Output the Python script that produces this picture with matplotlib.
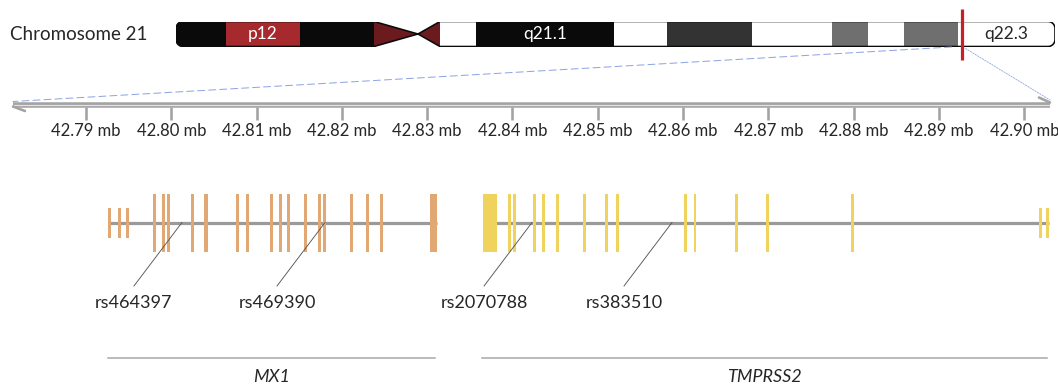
import numpy as np
import matplotlib
matplotlib.use("Agg")
import matplotlib.pyplot as plt
from matplotlib.path import Path
from matplotlib.patches import PathPatch, Rectangle, ConnectionPatch

plt.rcParams['font.family'] = ['Lato', 'DejaVu Sans']

# chromosome 21 ideogram, band edges in relative units (0-100)
band_start = [0.0, 5.69, 14.11, 22.53, 30.03, 34.13, 49.83, 55.86, 65.53, 74.63, 78.73, 82.82, 88.97]
band_end = [5.69, 14.11, 22.53, 30.03, 34.13, 49.83, 55.86, 65.53, 74.63, 78.73, 82.82, 88.97, 100.0]
band_stain = ['black', 'stalk', 'black', 'acen', 'white', 'black', 'white', 'dark', 'white',
              'grey', 'white', 'grey', 'white']
band_label = ['', 'p12', '', '', '', 'q21.1', '', '', '', '', '', '', 'q22.3']
centromere_mid = 27.53
region_marker = 89.42

# zoomed region (mb)
view_start = 42.78144
view_end = 42.90301
ticks_mb = [42.79, 42.80, 42.81, 42.82, 42.83, 42.84, 42.85, 42.86, 42.87, 42.88, 42.89, 42.90]

# genes
mx1_span = (42.7926, 42.8309)
mx1_exon_start = [42.79255, 42.79372, 42.79466, 42.79791, 42.79896, 42.79955, 42.80236,
                  42.80384, 42.80764, 42.80881, 42.81163, 42.81268, 42.81362, 42.81561,
                  42.81725, 42.81784, 42.82100, 42.82288, 42.82452, 42.83033]
mx1_exon_end = [42.79290, 42.79407, 42.79501, 42.79826, 42.79931, 42.79990, 42.80271,
                42.80430, 42.80799, 42.80916, 42.81198, 42.81303, 42.81397, 42.81596,
                42.81760, 42.81819, 42.82135, 42.82323, 42.82487, 42.83115]
mx1_exon_kind = ['utr', 'utr', 'utr'] + ['cds'] * 17

tmprss2_span = (42.8364, 42.9027)
tmprss2_exon_start = [42.83654, 42.83953, 42.84011, 42.84246, 42.84351, 42.84515, 42.84832,
                      42.85090, 42.85219, 42.86016, 42.86122, 42.86614, 42.86977, 42.87974,
                      42.90178, 42.90260]
tmprss2_exon_end = [42.83818, 42.83988, 42.84046, 42.84281, 42.84386, 42.84550, 42.84867,
                    42.85125, 42.85254, 42.86051, 42.86157, 42.86649, 42.87012, 42.88009,
                    42.90213, 42.90295]
tmprss2_exon_kind = ['cds'] * 14 + ['utr', 'utr']

snp_names = ['rs464397', 'rs469390', 'rs2070788', 'rs383510']
snp_pos = [42.80125, 42.81802, 42.84229, 42.85870]

W, H = 1058, 387
fig = plt.figure(figsize=(W / 100, H / 100), dpi=100)
px = 0.72  # points per pixel

stain_color = {'black': '#0a0a0a', 'stalk': '#a5292d', 'acen': '#6b1b1e',
               'white': '#ffffff', 'dark': '#333333', 'grey': '#6f6f6f'}
text_color = '#262626'

# ---- main track axes: x in mb, y in pixels from top
x0, x1 = 42.77992, 42.90395
ax = fig.add_axes([0, 0, 1, 1])
ax.set_xlim(x0, x1)
ax.set_ylim(H, 0)
ax.axis('off')
mbpx = (x1 - x0) / W

ax.text(x0 + 10 * mbpx, 35, 'Chromosome 21', fontsize=13.5, color=text_color,
        ha='left', va='center')

# ---- ideogram
axc = fig.add_axes([176 / W, (H - 46.5) / H, 879 / W, 25 / H])
axc.set_xlim(0, 100)
axc.set_ylim(0, 1)
axc.axis('off')

rx, ry = 7 / 8.79, 7 / 25
c1 = band_start[band_stain.index('acen')]
c2 = band_end[band_stain.index('acen')]


def arc(cx, cy, a0, a1):
    t = np.linspace(np.radians(a0), np.radians(a1), 12)
    return list(zip(cx + rx * np.cos(t), cy + ry * np.sin(t)))


verts = []
verts += arc(rx, 1 - ry, 180, 90)
verts += [(c1, 1), (centromere_mid, 0.5), (c2, 1)]
verts += arc(100 - rx, 1 - ry, 90, 0)
verts += arc(100 - rx, ry, 0, -90)
verts += [(c2, 0), (centromere_mid, 0.5), (c1, 0)]
verts += arc(rx, ry, -90, -180)
verts.append(verts[0])
outline = Path(verts, closed=True)

clip = PathPatch(outline, facecolor='none', edgecolor='none', transform=axc.transData)
axc.add_patch(clip)
for s, e, st, lab in zip(band_start, band_end, band_stain, band_label):
    r = Rectangle((s, 0), e - s, 1, facecolor=stain_color[st], edgecolor='none')
    axc.add_patch(r)
    r.set_clip_path(clip)
    if lab:
        axc.text((s + e) / 2, 0.5, lab, ha='center', va='center', fontsize=12.5,
                 color=text_color if st == 'white' else 'white')
axc.add_patch(PathPatch(outline, facecolor='none', edgecolor='#0a0a0a', lw=1.6 * px,
                        joinstyle='round'))
axc.plot([region_marker, region_marker], [-0.55, 1.5], color='#c8202a', lw=3.2 * px,
         clip_on=False, solid_capstyle='butt', zorder=5)

# ---- connectors from marker to zoomed axis
con_l = ConnectionPatch(xyA=(region_marker - 1.2, -0.02), coordsA=axc.transData,
                        xyB=(view_start, 101.5), coordsB=ax.transData,
                        color='#8ea4e4', lw=1.0 * px, linestyle=(0, (7, 4)))
con_r = ConnectionPatch(xyA=(region_marker + 0.4, -0.08), coordsA=axc.transData,
                        xyB=(view_end, 100), coordsB=ax.transData,
                        color='#8ea4e4', lw=0.8 * px, linestyle=(0, (2, 1.5)))
fig.add_artist(con_l)
fig.add_artist(con_r)

# ---- coordinate axis
axis_y = 104.5
ax.plot([view_start, view_end], [axis_y, axis_y], color='#a3a3a3', lw=5.5 * px,
        solid_capstyle='butt')
ax.plot([view_start, view_end], [axis_y, axis_y], color='#e4e4e4', lw=1.2 * px,
        solid_capstyle='butt')
ax.plot([view_start, view_start + 12 * mbpx], [106.5, 111], color='#a3a3a3', lw=2.6 * px,
        solid_capstyle='round')
ax.plot([view_end, view_end - 11 * mbpx], [102.5, 97.5], color='#a3a3a3', lw=2.6 * px,
        solid_capstyle='round')
ax.vlines(ticks_mb, 107, 120, color='#a3a3a3', lw=2.6 * px)
for t in ticks_mb:
    ax.text(t, 131, f'{t:.2f} mb', ha='center', va='center', fontsize=12, color=text_color)

# ---- gene models
track_y = 222.5


def draw_gene(starts, ends, kinds, color):
    ax.plot([starts[0], ends[-1]], [track_y, track_y], color='#9a9a9a', lw=3.2 * px,
            solid_capstyle='butt', zorder=2)
    for s, e, k in zip(starts, ends, kinds):
        half = 29 if k == 'cds' else 15
        ax.add_patch(Rectangle((s, track_y - half), e - s, 2 * half, facecolor=color,
                               edgecolor='none', zorder=3))


draw_gene(mx1_exon_start, mx1_exon_end, mx1_exon_kind, '#e2a874')
draw_gene(tmprss2_exon_start, tmprss2_exon_end, tmprss2_exon_kind, '#f0d35c')

# ---- SNP leaders
lead = 48 * mbpx
for name, p in zip(snp_names, snp_pos):
    ax.plot([p, p - lead], [track_y, 286], color='#555555', lw=0.9 * px, zorder=4)
    ax.text(p - lead, 303, name, ha='center', va='center', fontsize=13, color=text_color)

# ---- gene brackets
for span, name in [(mx1_span, 'MX1'), (tmprss2_span, 'TMPRSS2')]:
    ax.plot(span, [358, 358], color='#a6a6a6', lw=1.5 * px)
    ax.text(sum(span) / 2, 377, name, ha='center', va='center', fontsize=13,
            style='italic', color=text_color)

fig.savefig('out.png', dpi=100)
